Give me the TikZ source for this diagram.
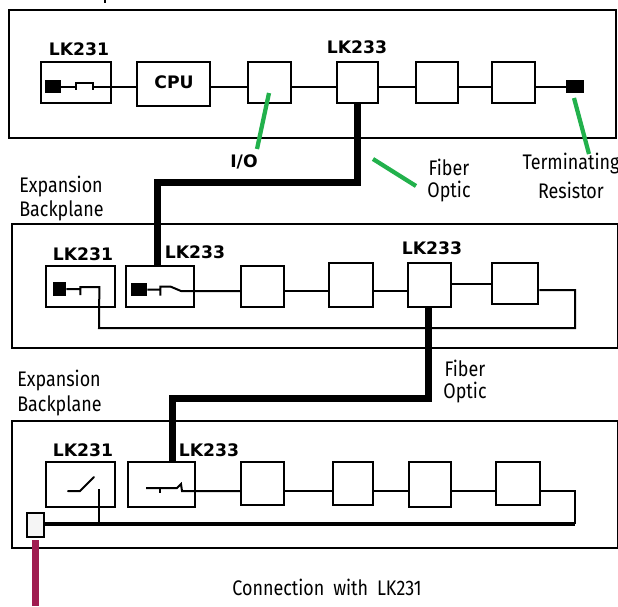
\documentclass[tikz,border=0pt]{standalone}
\usepackage{fontspec}
\newfontfamily\plainfont[FakeStretch=0.85]{Fira Sans}
\newfontfamily\tagfont{DejaVu Sans Bold}
\definecolor{leadgreen}{HTML}{22B14C}
\definecolor{padcrimson}{HTML}{A01C50}
\tikzset{
	rack/.style 2 args={draw,line width=0.04cm,minimum width=#1*0.02cm,minimum height=#2*0.02cm,inner sep=0pt},
	unit/.style 2 args={draw,fill=white,line width=0.05cm,minimum width=#1*0.02cm,minimum height=#2*0.02cm,inner sep=0pt},
	blackpad/.style 2 args={fill=black,minimum width=#1*0.02cm,minimum height=#2*0.02cm,inner sep=0pt},
	tagtext/.style={font=\tagfont\fontsize{9.8}{11}\selectfont,inner sep=0pt},
	note/.style={font=\plainfont\fontsize{12}{14}\selectfont,inner sep=0pt},
	bus/.style={line width=0.04cm},
	fiber/.style={line width=0.14cm},
	lead/.style={line width=0.085cm,leadgreen}
}
\begin{document}
\begin{tikzpicture}[x=0.02cm,y=-0.02cm]
\useasboundingbox (0,0) rectangle (618,606);
% Main backplane
\begin{scope}
	\node[rack={607}{128}] (rackA) at (312.5,74) {};
	\draw[line width=0.03cm] (105,0) -- (105,3);
	\node[unit={70}{41}] (ctlA) at (76,82.5) {};
	\node[unit={73}{44}] (cpuA) at (173.5,84) {};
	\node[unit={43}{41}] (ioA) at (269.5,82.5) {};
	\node[unit={41}{41}] (fibA) at (357.5,82.5) {};
	\node[unit={42}{41}] (slotA) at (437,82.5) {};
	\node[unit={43}{41}] (slotB) at (513.5,82.5) {};
	\node[blackpad={16}{13}] (padA) at (53,86.5) {};
	\node[blackpad={18}{13}] (termA) at (575,86.5) {};
	\coordinate (ioA tip) at (269,93);
	\coordinate (ioA end) at (257,149);
	\coordinate (termA tip) at (574,98);
	\coordinate (termA end) at (589,154);
	\draw[bus] (padA.east) -- ++(15,0) -- ++(0,3) ++(0,-3) -- ++(0,-4) -- ++(17,0) -- ++(0,7) ++(0,-3) -- (cpuA.west |- padA.east);
	\draw[bus] (cpuA.east |- padA.east) -- (ioA.west |- padA.east);
	\draw[bus] (ioA.east |- padA.east) -- (fibA.west |- padA.east);
	\draw[bus] (fibA.east |- padA.east) -- (slotA.west |- padA.east);
	\draw[bus] (slotA.east |- padA.east) -- (slotB.west |- padA.east);
	\draw[bus] (slotB.east |- padA.east) -- (termA.west);
	\node[tagtext] at (79,49) {LK231};
	\node[tagtext] at (357,47) {LK233};
	\node[tagtext] at (174,82) {CPU};
	\node[tagtext] (ioT) at (244,162) {I/O};
	\draw[lead] (ioA tip) -- (ioA end);
	\draw[lead] (termA tip) -- (termA end);
	\coordinate (noteA tip) at (373,159);
	\coordinate (noteA end) at (416,186);
	\draw[lead] (noteA tip) -- (noteA end);
	\node[note] (fiberA) at (449,167) {Fiber};
	\node[note] (opticA) at (449,192) {Optic};
	\node[note] (termT) at (571,164) {Terminating};
	\node[note] (resT) at (571,190) {Resistor};
	\node[note,anchor=west] (expA) at (19,186.5) {Expansion};
	\node[note,anchor=west] (bckA) at (19,211) {Backplane};
\end{scope}
% First expansion backplane
\begin{scope}
	\node[rack={606}{124}] (rackB) at (315,286) {};
	\node[unit={69}{41}] (ctlB) at (80.5,286.5) {};
	\node[unit={68}{41}] (fibB) at (160,286.5) {};
	\node[unit={43}{41}] (slotC) at (262.5,286.5) {};
	\node[unit={44}{44}] (slotD) at (351,285) {};
	\node[unit={43}{44}] (fibC) at (429.5,285) {};
	\node[unit={46}{41}] (slotE) at (515,283.5) {};
	\node[blackpad={13}{14}] (padB) at (59.5,289) {};
	\node[blackpad={16}{13}] (padC) at (139,289.5) {};
	\coordinate (loopB) at (575,328);
	\draw[bus] (padB.east) -- ++(14,0) ++(0,6) -- ++(0,-8) -- ++(19,0) -- (99,328) -- (loopB) -- (575,290) -- (slotE.east |- 575,290);
	\draw[bus] (padC.east) -- ++(13,0) ++(0,6) -- ++(0,-9) -- ++(10,0) -- (181,291) -- (slotC.west |- 181,291);
	\draw[bus] (slotC.east |- 181,291) -- (slotD.west |- 181,291);
	\draw[bus] (slotD.east |- 181,291) -- (fibC.west |- 181,291);
	\draw[bus] (fibC.east |- slotE.west) -- (slotE.west);
	\node[tagtext] at (83,254) {LK231};
	\node[tagtext] at (195,252) {LK233};
	\node[tagtext] at (432,248) {LK233};
	\node[note] (fiberB) at (465,368) {Fiber};
	\node[note] (opticB) at (465,393) {Optic};
	\node[note,anchor=west] (expB) at (17,380.5) {Expansion};
	\node[note,anchor=west] (bckB) at (17,406) {Backplane};
\end{scope}
% Second expansion backplane
\begin{scope}
	\node[rack={606}{127}] (rackC) at (315,484.5) {};
	\node[unit={69}{45}] (ctlC) at (80.5,484.5) {};
	\node[unit={67}{45}] (fibD) at (161.5,484.5) {};
	\node[unit={43}{43}] (slotF) at (262.5,483.5) {};
	\node[unit={40}{43}] (slotG) at (353,483.5) {};
	\node[unit={42}{45}] (slotH) at (430,484.5) {};
	\node[unit={44}{43}] (slotI) at (518,483.5) {};
	\node[unit={17}{24},fill=gray!8] (pinC) at (35.5,525) {};
	\coordinate (pinC end) at (35.5,606);
	\coordinate (pinC top) at (35.5,540);
	\coordinate (loopC) at (575,524);
	\draw[bus,line cap=round] (68,491) -- (80,491) -- (94,477);
	\draw[bus] (99,489) -- (99,524);
	\draw[bus] (146,488) -- (177,488) -- (181,484) -- (182,491) -- (slotF.west |- 182,491);
	\draw[bus] (160,488) -- (160,493);
	\draw[bus] (slotF.east |- 182,491) -- (slotG.west |- 182,491);
	\draw[bus] (slotG.east |- 182,491) -- (slotH.west |- 182,491);
	\draw[bus] (slotH.east |- 182,491) -- (slotI.west |- 182,491);
	\draw[bus] (slotI.east |- 182,491) -- (575,491) -- (loopC);
	\draw[line width=0.09cm] (pinC.east |- loopC) -- (loopC);
	\draw[line width=0.14cm,padcrimson] (pinC top) -- (pinC end);
	\node[tagtext] at (83,450) {LK231};
	\node[tagtext] at (209,450) {LK233};
	\node[note] (connT) at (327,587) {\spaceskip=0.42em Connection with LK231};
\end{scope}
% Fiber runs
\coordinate (runA) at (357.5,182);
\coordinate (runB) at (157,182);
\coordinate (runC) at (428,398);
\coordinate (runD) at (172,398);
\draw[fiber] (fibA.south) -- (runA) -- (runB) -- (fibB.north -| runB);
\draw[fiber] (fibC.south -| runC) -- (runC) -- (runD) -- (fibD.north -| runD);
\end{tikzpicture}
\end{document}
